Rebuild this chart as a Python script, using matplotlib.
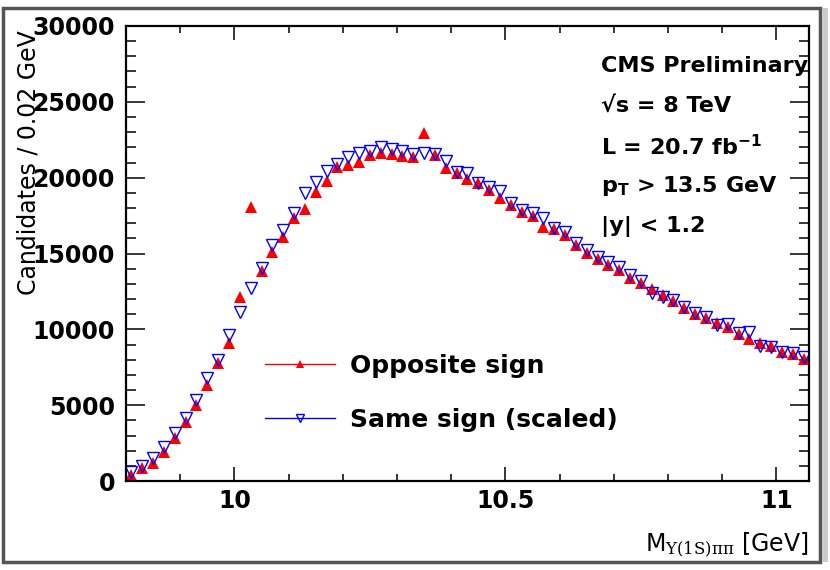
import numpy as np
import matplotlib
matplotlib.use("Agg")
import matplotlib.pyplot as plt
from matplotlib.patches import Rectangle
from matplotlib.ticker import MultipleLocator

plt.rcParams['font.family'] = ['DejaVu Sans']
plt.rcParams['mathtext.fontset'] = 'custom'
plt.rcParams['mathtext.rm'] = 'DejaVu Serif'
plt.rcParams['mathtext.it'] = 'DejaVu Serif:italic'
plt.rcParams['mathtext.bf'] = 'DejaVu Sans:bold'

# histogram binning: 0.02 GeV bins starting at 9.80 GeV
bin_lo = 9.80
bin_width = 0.02
n_bins = 63

# opposite-sign candidates per bin
opposite = [400, 850, 1160, 1930, 2850, 3910, 5010, 6330, 7760, 9120,
            12150, 18040, 13850, 15120, 16110, 17320, 17910, 19070, 19800, 20680,
            20830, 21010, 21490, 21600, 21560, 21450, 21340, 22960, 21490, 20620,
            20310, 19890, 19670, 19190, 18640, 18200, 17760, 17470, 16730, 16590,
            16220, 15560, 15050, 14620, 14240, 13890, 13380, 13030, 12640, 12260,
            11890, 11390, 11010, 10730, 10440, 10130, 9670, 9360, 9080, 8900,
            8520, 8370, 8020]

# same-sign candidates per bin (scaled)
same = [610, 1000, 1500, 2260, 3190, 4130, 5340, 6770, 7980, 9630,
        11160, 12700, 14030, 15560, 16550, 17650, 18970, 19730, 20460, 20880,
        21380, 21600, 21780, 22000, 21870, 21760, 21560, 21650, 21560, 21100,
        20360, 20330, 19630, 19360, 19140, 18350, 17870, 17650, 17320, 16660,
        16440, 15670, 15230, 14790, 14460, 14100, 13580, 13170, 12420, 12110,
        11930, 11490, 11100, 10790, 10290, 10350, 9740, 9850, 8900, 8850,
        8520, 8420, 8160]

info_lines = ["CMS Preliminary",
              "\u221as = 8 TeV",
              r"L = 20.7 fb$^{\mathbf{-1}}$",
              r"p$_{\mathbf{T}}$ > 13.5 GeV",
              "|y| < 1.2"]

centers = bin_lo + bin_width * (np.arange(n_bins) + 0.5)

fig = plt.figure(figsize=(8.3, 5.7), dpi=100)
ax = fig.add_axes([0.1518, 0.1561, 0.8229, 0.7983])

ax.plot(centers, opposite, linestyle='-', linewidth=0, color='red',
        marker='^', markersize=8.5, markeredgewidth=0, label='Opposite sign')
ax.plot(centers, same, linestyle='-', linewidth=0, color='blue',
        marker='v', markersize=9, markerfacecolor='none',
        markeredgewidth=1.0, label='Same sign (scaled)')

ax.set_xlim(9.8, 11.06)
ax.set_ylim(0, 30000)
ax.xaxis.set_major_locator(MultipleLocator(0.5))
ax.xaxis.set_minor_locator(MultipleLocator(0.1))
ax.yaxis.set_major_locator(MultipleLocator(5000))
ax.yaxis.set_minor_locator(MultipleLocator(1000))
ax.xaxis.set_major_formatter(plt.FuncFormatter(lambda v, p: f"{v:g}"))

ax.tick_params(which='both', direction='in', top=True, right=True, width=1.1)
ax.tick_params(axis='x', which='major', length=10, pad=6)
ax.tick_params(axis='x', which='minor', length=5)
ax.tick_params(axis='y', which='major', length=14, pad=8)
ax.tick_params(axis='y', which='minor', length=7)
for lbl in ax.get_xticklabels() + ax.get_yticklabels():
    lbl.set_fontweight('bold')
    lbl.set_fontsize(17)
for sp in ax.spines.values():
    sp.set_linewidth(1.6)

ax.set_ylabel("Candidates / 0.02 GeV", fontsize=17)
ax.yaxis.set_label_coords(-0.125, 0.70)
ax.set_xlabel("M$_{\\mathrm{\\Upsilon(1S)\u03c0\u03c0}}$ [GeV]", fontsize=17)
ax.xaxis.set_label_coords(1.0, -0.11)
ax.xaxis.label.set_horizontalalignment('right')

for k, line in enumerate(info_lines):
    ax.text(0.695, 0.912 - k * 0.088, line, transform=ax.transAxes,
            fontsize=16, fontweight='bold', va='center', ha='left')

leg = ax.legend(loc='upper left', bbox_to_anchor=(0.2035, 0.28),
                frameon=False, prop={'weight': 'bold', 'size': 18},
                handlelength=2.8, handletextpad=0.6, labelspacing=1.2,
                borderpad=0, borderaxespad=0, markerscale=0.7)
for h in leg.get_lines():
    h.set_linewidth(1.0)

# window border around the canvas
fig.patches.append(Rectangle((0.004, 0.014), 0.984, 0.972, transform=fig.transFigure,
                             fill=False, edgecolor='#555555', linewidth=2.5))
fig.patches.append(Rectangle((0.990, 0.014), 0.008, 0.972, transform=fig.transFigure,
                             facecolor='#cccccc', edgecolor='none'))

fig.savefig("out.png", dpi=100)
